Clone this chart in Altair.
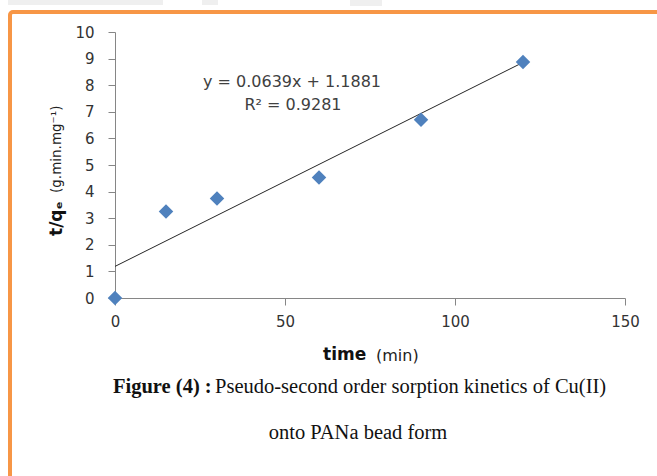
import altair as alt
import pandas as pd

# ---- data ----
time_min = [0, 15, 30, 60, 90, 120]
t_over_qe = [0.0, 3.25, 3.74, 4.53, 6.70, 8.87]
slope = 0.0639
intercept = 1.1881
x_ticks = [0, 50, 100, 150]
y_ticks = list(range(0, 11))

pts = pd.DataFrame({"time": time_min, "tq": t_over_qe})
fit_x = [min(time_min), max(time_min)]
fit = pd.DataFrame({"time": fit_x, "tq": [slope * v + intercept for v in fit_x]})
one = pd.DataFrame({"a": [0]})

W, H = 510, 266
LEFT, TOP = 115, 32

xs = alt.Scale(domain=[0, 150], nice=False)
ys = alt.Scale(domain=[0, 10], nice=False)

common = dict(grid=False, domainColor="#868686", tickColor="#868686", tickSize=7,
              labelFontSize=15, labelFont="DejaVu Sans", labelColor="#333333",
              labelOverlap=False, labelFlush=False, title=None)
xax = alt.Axis(values=x_ticks, labelPadding=9, **common)
yax = alt.Axis(values=y_ticks, tickCount=11, labelPadding=14, **common)


def px(v):
    return alt.value(v)


border = alt.Chart(one).mark_rect(
    fillOpacity=0, stroke="#F79646", strokeWidth=4, cornerRadius=3
).encode(x=px(10 - LEFT), x2=px(720 - LEFT), y=px(12 - TOP), y2=px(500 - TOP))

gray1 = alt.Chart(one).mark_rect(color="#efefef").encode(
    x=px(8 - LEFT), x2=px(163 - LEFT), y=px(-TOP), y2=px(5 - TOP))
gray2 = alt.Chart(one).mark_rect(color="#efefef").encode(
    x=px(202 - LEFT), x2=px(218 - LEFT), y=px(-TOP), y2=px(5 - TOP))
gray3 = alt.Chart(one).mark_rect(color="#efefef").encode(
    x=px(350 - LEFT), x2=px(382 - LEFT), y=px(-TOP), y2=px(6 - TOP))

line = alt.Chart(fit).mark_line(color="#262626", strokeWidth=1).encode(
    x=alt.X("time:Q", scale=xs, axis=xax),
    y=alt.Y("tq:Q", scale=ys, axis=yax),
)

points = alt.Chart(pts).mark_point(
    shape="diamond", filled=True, size=210, color="#4F81BD", opacity=1
).encode(
    x=alt.X("time:Q", scale=xs, axis=xax),
    y=alt.Y("tq:Q", scale=ys, axis=yax),
)


def txt(s, x, y, size, weight="normal", font="DejaVu Sans", align="center",
        color="#333333", angle=0):
    kw = dict(text=s, fontSize=size, fontWeight=weight, font=font, align=align,
              baseline="middle", color=color)
    if angle:
        kw["angle"] = angle
    return alt.Chart(one).mark_text(**kw).encode(x=px(x), y=px(y))


texts = [
    txt("y = 0.0639x + 1.1881", 292 - LEFT, 82 - TOP, 16, color="#404040"),
    txt("R² = 0.9281", 293 - LEFT, 105 - TOP, 16, color="#404040"),
    txt("time", 323 - LEFT, 355 - TOP, 17, weight="bold", align="left", color="#111111"),
    txt("(min)", 376 - LEFT, 356 - TOP, 16, align="left", color="#222222"),
    txt("t/qₑ", 57 - LEFT, 236 - TOP, 17, weight="bold", align="left",
        color="#111111", angle=270),
    txt("(g.min.mg⁻¹)", 57 - LEFT, 193 - TOP, 13.5, align="left",
        color="#222222", angle=270),
    txt("Figure (4) :", 113 - LEFT, 387 - TOP, 20.5, weight="bold",
        font="Liberation Serif", align="left", color="#111111"),
    txt("Pseudo-second order sorption kinetics of Cu(II)", 215 - LEFT, 387 - TOP, 20.5,
        font="Liberation Serif", align="left", color="#111111"),
    txt("onto PANa bead form", 358 - LEFT, 433 - TOP, 20.5,
        font="Liberation Serif", color="#111111"),
]

chart = alt.layer(border, gray1, gray2, gray3, line, points, *texts).properties(
    width=W, height=H,
    autosize=alt.AutoSizeParams(type="none"),
    padding={"left": LEFT, "top": TOP, "right": 657 - LEFT - W, "bottom": 476 - TOP - H},
    background="white",
).configure_view(stroke=None)

chart.save("out.html", embed_options={"renderer": "svg", "actions": False})
